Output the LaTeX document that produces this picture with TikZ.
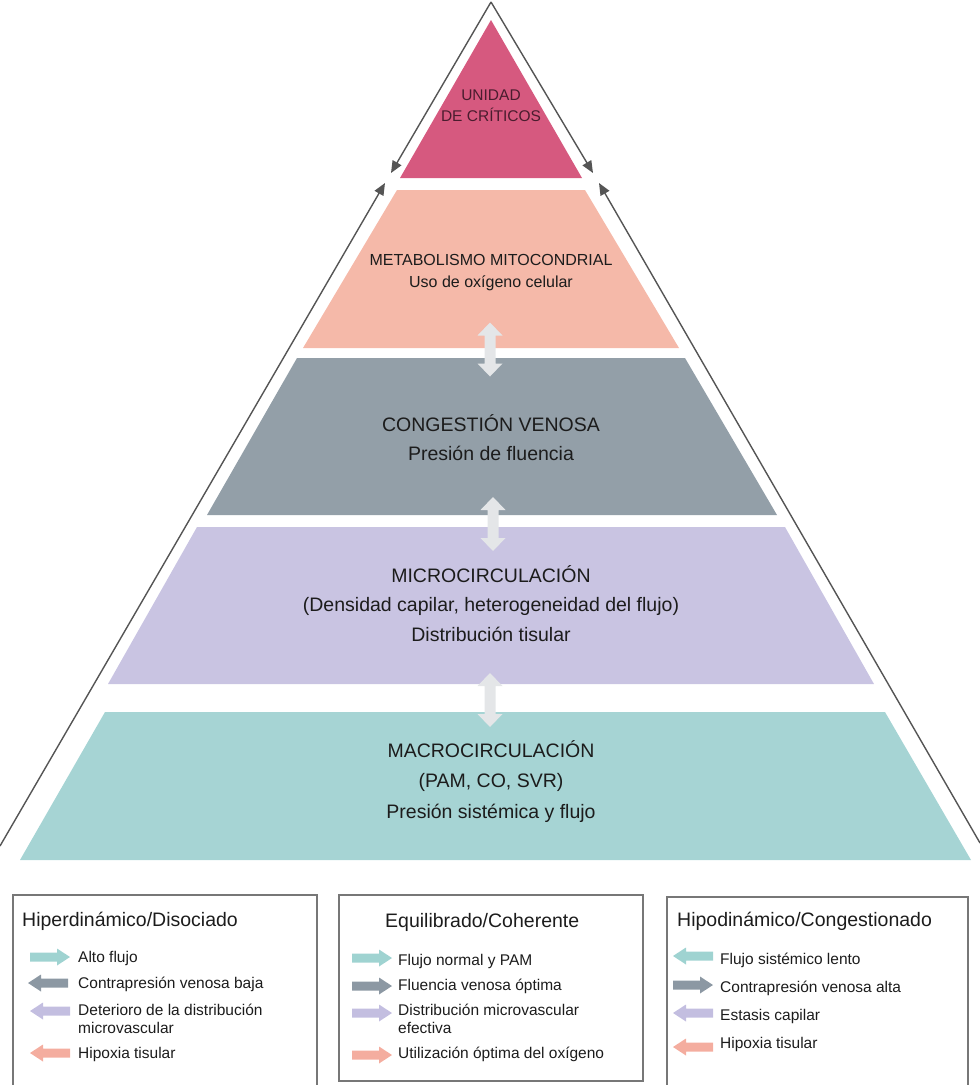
\documentclass[tikz,border=0pt]{standalone}
\usepackage{fontspec}
\setmainfont{Liberation Sans}
\usetikzlibrary{arrows.meta}
\definecolor{cpink}{HTML}{D6597F}
\definecolor{csalmon}{HTML}{F5B9A9}
\definecolor{cgray}{HTML}{939FA8}
\definecolor{clav}{HTML}{C9C4E2}
\definecolor{cteal}{HTML}{A6D4D4}
\definecolor{cdarr}{HTML}{E4E6E8}
\definecolor{ctext}{HTML}{1C1C1C}
\definecolor{cpinktext}{HTML}{4A1C2E}
\definecolor{cline}{HTML}{555555}
\definecolor{cbox}{HTML}{777777}
\definecolor{aTeal}{HTML}{9FD3D1}
\definecolor{aGray}{HTML}{8C98A3}
\definecolor{aLav}{HTML}{C3BEE0}
\definecolor{aSal}{HTML}{F4AD9F}
\begin{document}
\begin{tikzpicture}[x=1pt,y=-1pt,
  txtL/.style={anchor=base, font=\fontsize{19.5}{23}\selectfont, text=ctext, inner sep=0pt},
  txtM/.style={anchor=base, font=\fontsize{16}{19}\selectfont, text=ctext, inner sep=0pt},
  txtS/.style={anchor=base, font=\fontsize{15.5}{18}\selectfont, text=cpinktext, inner sep=0pt},
  legT/.style={anchor=base west, font=\fontsize{19.5}{23}\selectfont, text=ctext, inner sep=0pt},
  legI/.style={anchor=base west, font=\fontsize{15.5}{18}\selectfont, text=ctext, inner sep=0pt},
  outer/.style={draw=cline, line width=1.4pt, -{Triangle[length=12pt,width=10pt]}},
  legbox/.style={draw=cbox, line width=1.3pt},
  rarr/.pic={\fill[pic actions] (0,-4.5) -- (27,-4.5) -- (27,-8.5) -- (40,0) -- (27,8.5) -- (27,4.5) -- (0,4.5) -- cycle;},
  larr/.pic={\fill[pic actions] (40,-4.5) -- (13,-4.5) -- (13,-8.5) -- (0,0) -- (13,8.5) -- (13,4.5) -- (40,4.5) -- cycle;},
  vdarr/.pic={\fill[pic actions] (-5.5,-14) -- (-5.5,14) -- (-12.5,14) -- (0,27) -- (12.5,14) -- (5.5,14) -- (5.5,-14) -- (12.5,-14) -- (0,-27) -- (-12.5,-14) -- cycle;}
]
\useasboundingbox (0,0) rectangle (980,1085);

% pyramid layers
\fill[cpink] (491,20) -- (582,178) -- (400,178) -- cycle;
\fill[csalmon] (397,190) -- (585,190) -- (679,348) -- (303,348) -- cycle;
\fill[cgray] (297,358) -- (685,358) -- (777,515) -- (207,515) -- cycle;
\fill[clav] (197,527) -- (785,527) -- (874,684) -- (108,684) -- cycle;
\fill[cteal] (105,712) -- (885,712) -- (971,860) -- (20,860) -- cycle;

% double arrows between layers
\pic[fill=cdarr] (da1) at (490,349.5) {vdarr};
\pic[fill=cdarr] (da2) at (493,524) {vdarr};
\pic[fill=cdarr] (da3) at (490,700) {vdarr};

% outer lines with arrows
\coordinate (apex) at (491,2);
\coordinate (tipL1) at (391,173);
\coordinate (tipR1) at (593,173);
\coordinate (tipL2) at (385,183);
\coordinate (tipR2) at (599,183);
\coordinate (baseL) at (0,846);
\coordinate (baseR) at (980,843);
\draw[outer] (apex) -- (tipL1);
\draw[outer] (apex) -- (tipR1);
\draw[outer] (baseL) -- (tipL2);
\draw[outer] (baseR) -- (tipR2);

% layer texts
\node[txtS] (p1) at (491,100) {UNIDAD};
\node[txtS] (p2) at (491,121.5) {DE CRÍTICOS};
\node[txtM] (s1) at (491,265.5) {METABOLISMO MITOCONDRIAL};
\node[txtM] (s2) at (491,287) {Uso de oxígeno celular};
\node[txtL] (g1) at (491,431) {CONGESTIÓN VENOSA};
\node[txtL] (g2) at (491,460) {Presión de fluencia};
\node[txtL] (v1) at (491,582) {MICROCIRCULACIÓN};
\node[txtL] (v2) at (491,611) {(Densidad capilar, heterogeneidad del flujo)};
\node[txtL] (v3) at (491,641) {Distribución tisular};
\node[txtL] (t1) at (491,757) {MACROCIRCULACIÓN};
\node[txtL] (t2) at (491,787) {(PAM, CO, SVR)};
\node[txtL] (t3) at (491,818) {Presión sistémica y flujo};

% legend boxes
\draw[legbox] (13,1095) -- (13,895) -- (317,895) -- (317,1095);
\draw[legbox] (339,895) rectangle (643,1081);
\draw[legbox] (667,1095) -- (667,897) -- (968,897) -- (968,1095);

% box 1
\node[legT] (b1t) at (22,926) {Hiperdinámico/Disociado};
\pic[fill=aTeal] (b1a1) at (30,957) {rarr};
\node[legI] (b1i1) at (78,962.5) {Alto flujo};
\pic[fill=aGray] (b1a2) at (28,983) {larr};
\node[legI] (b1i2) at (78,988.5) {Contrapresión venosa baja};
\pic[fill=aLav] (b1a3) at (30,1011) {larr};
\node[legI] (b1i3) at (78,1015.5) {Deterioro de la distribución};
\node[legI] (b1i3b) at (78,1033.5) {microvascular};
\pic[fill=aSal] (b1a4) at (30,1053) {larr};
\node[legI] (b1i4) at (78,1058.5) {Hipoxia tisular};

% box 2
\node[legT] (b2t) at (385,927) {Equilibrado/Coherente};
\pic[fill=aTeal] (b2a1) at (352,958) {rarr};
\node[legI] (b2i1) at (398,965) {Flujo normal y PAM};
\pic[fill=aGray] (b2a2) at (352,986) {rarr};
\node[legI] (b2i2) at (398,990.5) {Fluencia venosa óptima};
\pic[fill=aLav] (b2a3) at (352,1013) {rarr};
\node[legI] (b2i3) at (398,1015.5) {Distribución microvascular};
\node[legI] (b2i3b) at (398,1033.5) {efectiva};
\pic[fill=aSal] (b2a4) at (352,1055) {rarr};
\node[legI] (b2i4) at (398,1058.5) {Utilización óptima del oxígeno};

% box 3
\node[legT] (b3t) at (677,926) {Hipodinámico/Congestionado};
\pic[fill=aTeal] (b3a1) at (673,956) {larr};
\node[legI] (b3i1) at (720,964.5) {Flujo sistémico lento};
\pic[fill=aGray] (b3a2) at (673,985) {rarr};
\node[legI] (b3i2) at (720,992.5) {Contrapresión venosa alta};
\pic[fill=aLav] (b3a3) at (673,1013) {larr};
\node[legI] (b3i3) at (720,1020.5) {Estasis capilar};
\pic[fill=aSal] (b3a4) at (673,1047) {larr};
\node[legI] (b3i4) at (720,1048.5) {Hipoxia tisular};
\end{tikzpicture}
\end{document}
